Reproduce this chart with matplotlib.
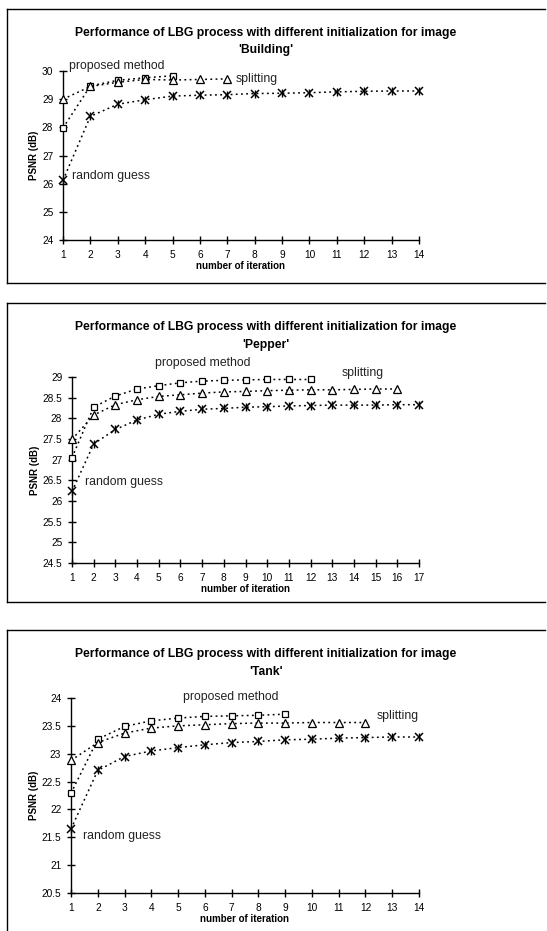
import matplotlib
matplotlib.use("Agg")
import matplotlib.pyplot as plt
from matplotlib.lines import Line2D

plt.rcParams['font.family'] = ['Liberation Sans', 'DejaVu Sans']

# data
building_proposed = [27.98, 29.47, 29.67, 29.76, 29.83]
building_split = [29.0, 29.45, 29.6, 29.7, 29.68, 29.7, 29.72]
building_random = [26.12, 28.39, 28.82, 28.98, 29.11, 29.14, 29.16, 29.2, 29.21, 29.23, 29.26, 29.28, 29.29, 29.29]

pepper_proposed = [27.05, 28.27, 28.54, 28.71, 28.79, 28.86, 28.9, 28.92, 28.93, 28.94, 28.94, 28.94]
pepper_split = [27.49, 28.08, 28.33, 28.45, 28.53, 28.57, 28.61, 28.64, 28.65, 28.67, 28.68, 28.69, 28.69, 28.7, 28.71, 28.71]
pepper_random = [26.23, 27.38, 27.73, 27.96, 28.1, 28.17, 28.22, 28.24, 28.27, 28.28, 28.3, 28.31, 28.32, 28.32, 28.32, 28.33, 28.33]

tank_proposed = [22.29, 23.26, 23.49, 23.59, 23.64, 23.67, 23.68, 23.69, 23.71]
tank_split = [22.88, 23.2, 23.37, 23.46, 23.5, 23.52, 23.54, 23.55, 23.55, 23.56, 23.56, 23.56]
tank_random = [21.65, 22.7, 22.95, 23.05, 23.11, 23.16, 23.2, 23.22, 23.25, 23.26, 23.28, 23.29, 23.3, 23.3]

images = ['Building', 'Pepper', 'Tank']
title = "Performance of LBG process with different initialization for image"

W, H = 547, 931
fig = plt.figure(figsize=(W / 100, H / 100), dpi=100)


def px_axes(l, r, t, b):
    return fig.add_axes([l / W, 1 - b / H, (r - l) / W, (b - t) / H])


def frame(top, bottom):
    # excel style chart border (right side runs off the page)
    kw = dict(color='black', lw=1.0, transform=fig.transFigure)
    fig.add_artist(Line2D([7 / W, 545 / W], [1 - top / H, 1 - top / H], **kw))
    fig.add_artist(Line2D([7 / W, 7 / W], [1 - top / H, 1 - bottom / H], **kw))
    if bottom < H:
        fig.add_artist(Line2D([7 / W, 545 / W], [1 - bottom / H, 1 - bottom / H], **kw))


def panel(ax, prop, split, rand, xmax, ylim, ystep, labels):
    ls = (0, (1.2, 2.2))
    x = range(1, len(prop) + 1)
    ax.plot(x, prop, ls=ls, color='black', lw=1.1, marker='s', ms=5,
            mfc='white', mec='black', mew=0.9, clip_on=False, zorder=3)
    x = range(1, len(split) + 1)
    ax.plot(x, split, ls=ls, color='black', lw=1.1, marker='^', ms=5.5,
            mfc='white', mec='black', mew=0.9, clip_on=False, zorder=3)
    x = range(1, len(rand) + 1)
    ax.plot(x, rand, ls=ls, color='black', lw=1.1, marker='x', ms=5.5,
            mec='black', mew=1.1, clip_on=False, zorder=3)
    ax.plot(x, rand, ls='none', marker='|', ms=6, mec='black', mew=1.0,
            clip_on=False, zorder=3)

    ax.set_xlim(1, xmax)
    ax.set_ylim(*ylim)
    ax.set_xticks(range(1, xmax + 1))
    yt = []
    v = ylim[0]
    while v <= ylim[1] + 1e-9:
        yt.append(v)
        v += ystep
    ax.set_yticks(yt)
    ax.set_yticklabels(['%g' % t for t in yt])
    ax.spines['top'].set_visible(False)
    ax.spines['right'].set_visible(False)
    ax.spines['left'].set_linewidth(1.0)
    ax.spines['bottom'].set_linewidth(1.0)
    ax.tick_params(direction='inout', length=6, width=1.0, labelsize=7.3, pad=4)
    ax.set_xlabel('number of iteration', fontsize=7, fontweight='bold', labelpad=1)
    ax.set_ylabel('PSNR (dB)', fontsize=7, fontweight='bold', labelpad=2)
    ax.patch.set_alpha(0)
    for txt, xx, yy in labels:
        ax.text(xx, yy, txt, fontsize=8.8, ha='left', va='center', color='#222222')


# panel 1: Building
frame(9, 283)
ax1 = px_axes(63, 419, 71, 240)
panel(ax1, building_proposed, building_split, building_random, 14, (24, 30), 1,
      [('proposed method', 1.21, 30.18), ('splitting', 7.29, 29.7),
       ('random guess', 1.34, 26.28)])
fig.text(266 / W, 1 - 41.5 / H, title + "\n'" + images[0] + "'", ha='center',
         va='center', fontsize=8.7, fontweight='bold', linespacing=1.65)

# panel 2: Pepper
frame(303, 602)
ax2 = px_axes(72, 419, 377, 563)
panel(ax2, pepper_proposed, pepper_split, pepper_random, 17, (24.5, 29), 0.5,
      [('proposed method', 4.81, 29.34), ('splitting', 13.43, 29.1),
       ('random guess', 1.61, 26.47)])
fig.text(266 / W, 1 - 336 / H, title + "\n'" + images[1] + "'", ha='center',
         va='center', fontsize=8.7, fontweight='bold', linespacing=1.65)

# panel 3: Tank
frame(630, 960)
ax3 = px_axes(71, 419, 698, 893)
panel(ax3, tank_proposed, tank_split, tank_random, 14, (20.5, 24), 0.5,
      [('proposed method', 5.17, 24.01), ('splitting', 12.41, 23.67),
       ('random guess', 1.45, 21.53)])
fig.text(266 / W, 1 - 663 / H, title + "\n'" + images[2] + "'", ha='center',
         va='center', fontsize=8.7, fontweight='bold', linespacing=1.65)

fig.savefig('out.png', dpi=100)
